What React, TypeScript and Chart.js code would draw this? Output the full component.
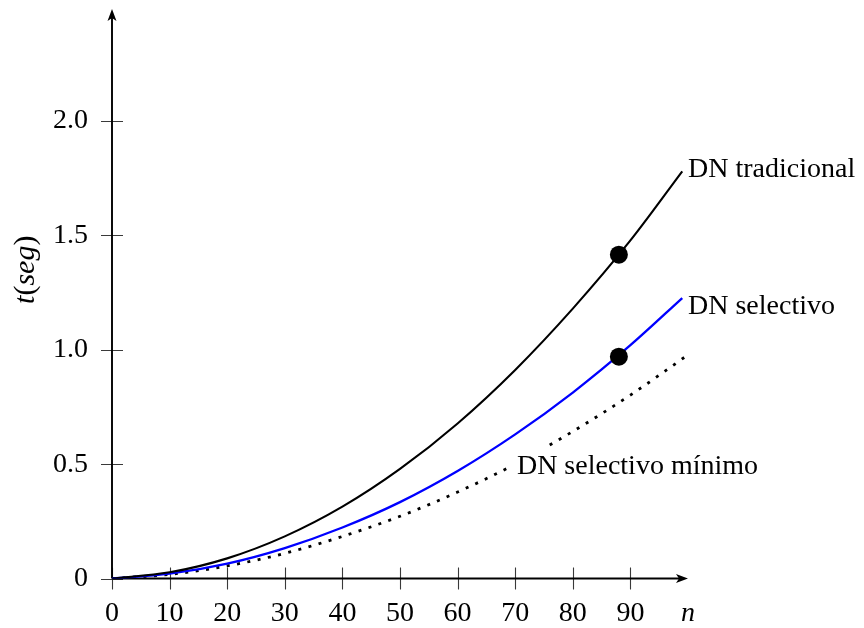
import React, { useEffect, useRef } from 'react';
import { Chart, registerables } from 'chart.js';

Chart.register(...registerables);

// ---- data ----
const nTradicional = [0, 10, 20, 30, 40, 50, 60, 70, 80, 90, 99];
const tTradicional = [0, 0.027, 0.088, 0.184, 0.314, 0.479, 0.678, 0.912, 1.18, 1.478, 1.78];

const nSelectivo = [0, 10, 20, 30, 40, 50, 60, 70, 80, 90, 99];
const tSelectivo = [0, 0.021, 0.065, 0.133, 0.223, 0.334, 0.47, 0.63, 0.813, 1.02, 1.226];

const nMinimo = [0, 10, 20, 30, 40, 50, 60, 70, 80, 90, 100];
const tMinimo = [0, 0.018, 0.055, 0.11, 0.184, 0.272, 0.378, 0.5, 0.643, 0.802, 0.978];

const markN = [88, 88];
const markT = [1.416, 0.97];

const xTickValues = [0, 10, 20, 30, 40, 50, 60, 70, 80, 90];
const yTickValues = [0, 0.5, 1, 1.5, 2];
const yTickLabels = ['0', '0.5', '1.0', '1.5', '2.0'];
const xAxisName = 'n';
const xMax = 100;
const yMax = 2.49;

const seriesNames = ['DN tradicional', 'DN selectivo', 'DN selectivo mínimo'];

const SERIF = '"Liberation Serif", "Times New Roman", serif';
const FONT_SIZE = 28;

const toPoints = (xs: number[], ys: number[]) => xs.map((v, i) => ({ x: v, y: ys[i] }));

export default function App() {
  const ref = useRef<HTMLCanvasElement>(null);

  useEffect(() => {
    const canvas = ref.current;
    if (!canvas) return;

    const decoPlugin = {
      id: 'decoPlugin',
      beforeDatasetsDraw(chart: any) {
        const { ctx } = chart;
        const xs = chart.scales.x;
        const ys = chart.scales.y;
        const x0 = xs.getPixelForValue(0);
        const y0 = ys.getPixelForValue(0);
        const xEnd = xs.getPixelForValue(xMax);
        const yEnd = ys.getPixelForValue(yMax);
        ctx.save();
        // tick marks crossing the axes
        ctx.strokeStyle = '#3a3a3a';
        ctx.lineWidth = 1.1;
        ctx.beginPath();
        xTickValues.forEach((v) => {
          const p = Math.round(xs.getPixelForValue(v)) + 0.5;
          ctx.moveTo(p, y0 - 11);
          ctx.lineTo(p, y0 + 11);
        });
        yTickValues.forEach((v) => {
          const p = Math.round(ys.getPixelForValue(v)) + 0.5;
          ctx.moveTo(x0 - 11, p);
          ctx.lineTo(x0 + 11, p);
        });
        ctx.stroke();
        // axis lines
        ctx.strokeStyle = '#000';
        ctx.lineWidth = 1.9;
        ctx.beginPath();
        ctx.moveTo(x0, y0);
        ctx.lineTo(xEnd - 8, y0);
        ctx.moveTo(x0, y0);
        ctx.lineTo(x0, yEnd + 8);
        ctx.stroke();
        // arrow heads
        ctx.fillStyle = '#000';
        ctx.beginPath();
        ctx.moveTo(xEnd, y0);
        ctx.lineTo(xEnd - 12, y0 - 4.5);
        ctx.lineTo(xEnd - 9, y0);
        ctx.lineTo(xEnd - 12, y0 + 4.5);
        ctx.closePath();
        ctx.fill();
        ctx.beginPath();
        ctx.moveTo(x0, yEnd);
        ctx.lineTo(x0 - 4.5, yEnd + 12);
        ctx.lineTo(x0, yEnd + 9);
        ctx.lineTo(x0 + 4.5, yEnd + 12);
        ctx.closePath();
        ctx.fill();

        // y-axis title t(seg), rotated
        const parts: [string, boolean][] = [['t', true], ['(', false], ['seg', true], [')', false]];
        const fontOf = (it: boolean) => `${it ? 'italic ' : ''}${FONT_SIZE + 2}px ${SERIF}`;
        let total = 0;
        parts.forEach(([s, it]) => {
          ctx.font = fontOf(it);
          total += ctx.measureText(s).width;
        });
        ctx.translate(26, ys.getPixelForValue(1.35));
        ctx.rotate(-Math.PI / 2);
        ctx.textBaseline = 'middle';
        ctx.textAlign = 'left';
        let cx = -total / 2;
        parts.forEach(([s, it]) => {
          ctx.font = fontOf(it);
          ctx.fillText(s, cx, 0);
          cx += ctx.measureText(s).width;
        });
        ctx.restore();
      },
      afterDatasetsDraw(chart: any) {
        const { ctx } = chart;
        const xs = chart.scales.x;
        const ys = chart.scales.y;
        ctx.save();
        ctx.font = `${FONT_SIZE}px ${SERIF}`;
        ctx.textBaseline = 'alphabetic';
        ctx.textAlign = 'left';
        ctx.fillStyle = '#000';
        // tradicional
        ctx.fillText(seriesNames[0], xs.getPixelForValue(100), ys.getPixelForValue(1.754));
        // selectivo
        ctx.fillText(seriesNames[1], xs.getPixelForValue(100), ys.getPixelForValue(1.156));
        // selectivo minimo with white box
        const lx = xs.getPixelForValue(70.3);
        const ly = ys.getPixelForValue(0.457);
        const w = ctx.measureText(seriesNames[2]).width;
        ctx.fillStyle = '#fff';
        ctx.fillRect(lx - 9, ly - 27, w + 18, 42);
        ctx.fillStyle = '#000';
        ctx.fillText(seriesNames[2], lx, ly);
        ctx.restore();
      },
    };

    const chart = new Chart(canvas, {
      type: 'scatter',
      data: {
        datasets: [
          {
            label: 'marks',
            data: toPoints(markN, markT),
            showLine: false,
            pointRadius: 9,
            pointBackgroundColor: '#000',
            pointBorderWidth: 0,
            pointHoverRadius: 9,
          },
          {
            label: seriesNames[0],
            data: toPoints(nTradicional, tTradicional),
            showLine: true,
            borderColor: '#000',
            borderWidth: 2.1,
            pointRadius: 0,
            cubicInterpolationMode: 'monotone',
          },
          {
            label: seriesNames[1],
            data: toPoints(nSelectivo, tSelectivo),
            showLine: true,
            borderColor: '#0000ff',
            borderWidth: 2.3,
            pointRadius: 0,
            cubicInterpolationMode: 'monotone',
          },
          {
            label: seriesNames[2],
            data: toPoints(nMinimo, tMinimo),
            showLine: true,
            borderColor: '#000',
            borderWidth: 2.8,
            borderDash: [3, 7.5],
            borderCapStyle: 'butt',
            pointRadius: 0,
            cubicInterpolationMode: 'monotone',
          },
        ],
      } as any,
      options: {
        responsive: false,
        maintainAspectRatio: false,
        animation: false,
        devicePixelRatio: 1,
        layout: { padding: { left: 0, right: 176, top: 3.5, bottom: 0 } },
        plugins: {
          legend: { display: false },
          tooltip: { enabled: false },
          title: { display: false },
        },
        events: [],
        scales: {
          x: {
            type: 'linear',
            min: 0,
            max: xMax,
            grid: { display: false, drawTicks: false },
            border: { display: false },
            afterFit: (s: any) => {
              s.height = 49.5;
              s.paddingLeft = 0;
              s.paddingRight = 0;
              s.paddingTop = 0;
              s.paddingBottom = 0;
            },
            afterBuildTicks: (s: any) => {
              s.ticks = [...xTickValues, xMax].map((v) => ({ value: v }));
            },
            ticks: {
              autoSkip: false,
              maxRotation: 0,
              minRotation: 0,
              padding: 18,
              color: '#000',
              callback: (v: any) => (v === xMax ? xAxisName : String(v)),
              font: (c: any) =>
                c.tick && c.tick.value === xMax
                  ? { family: SERIF, size: FONT_SIZE, style: 'italic' }
                  : { family: SERIF, size: FONT_SIZE },
            },
          },
          y: {
            type: 'linear',
            min: 0,
            max: yMax,
            grid: { display: false, drawTicks: false },
            border: { display: false },
            afterFit: (s: any) => {
              s.width = 112;
              s.paddingTop = 0;
              s.paddingBottom = 0;
              s.paddingLeft = 0;
              s.paddingRight = 0;
            },
            afterBuildTicks: (s: any) => {
              s.ticks = yTickValues.map((v) => ({ value: v }));
            },
            ticks: {
              autoSkip: false,
              padding: 24,
              color: '#000',
              font: { family: SERIF, size: FONT_SIZE },
              callback: (v: any) => {
                const i = yTickValues.indexOf(v);
                return i >= 0 ? yTickLabels[i] : '';
              },
            },
          },
        },
      } as any,
      plugins: [decoPlugin],
    });

    return () => chart.destroy();
  }, []);

  return (
    <div style={{ position: 'absolute', left: 0, top: 0, width: 864, height: 628, background: '#fff' }}>
      <canvas ref={ref} width={864} height={628} style={{ display: 'block', width: 864, height: 628 }} />
    </div>
  );
}
